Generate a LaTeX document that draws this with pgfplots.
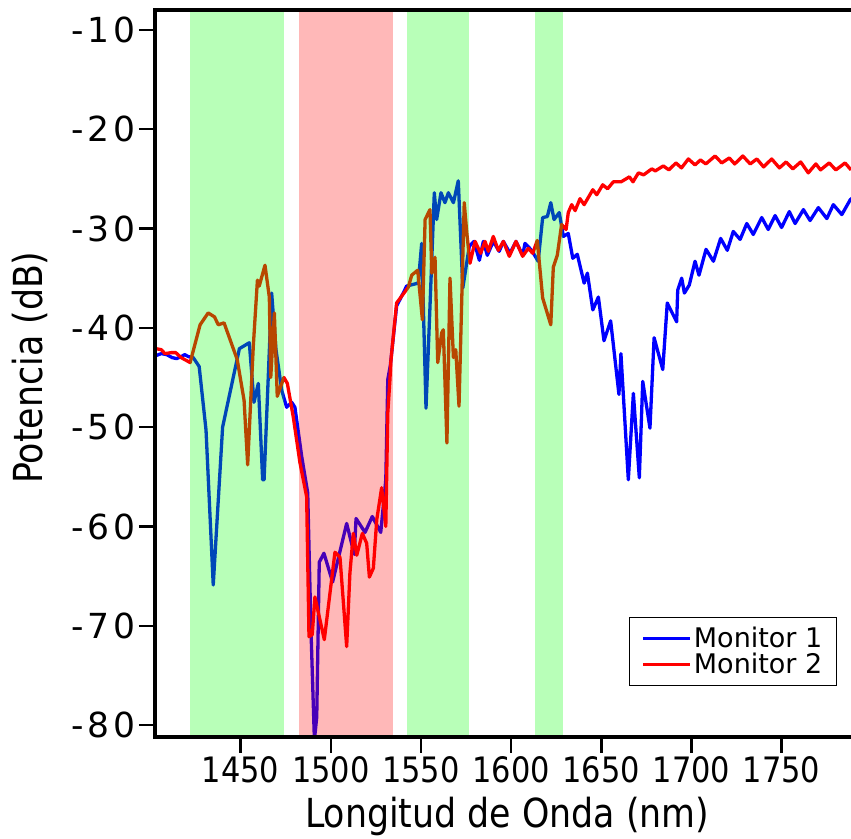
\documentclass[border=0pt]{standalone}
\usepackage{fontspec}
\setmainfont{DejaVu Sans}
\newfontfamily\tickfont[LetterSpace=11]{DejaVu Sans}
\newfontfamily\condfont[FakeStretch=0.87]{DejaVu Sans}
\usepackage{pgfplots}
\pgfplotsset{compat=1.18}

\begin{document}
\begin{tikzpicture}
\begin{axis}[
  scale only axis, width=696pt, height=727pt,
  xmin=1402.5, xmax=1788.5, ymin=-81.2, ymax=-8,
  clip mode=individual,
  axis line style={draw=none},
  xtick={1450,1500,1550,1600,1650,1700,1750},
  xticklabels={1450,1500,1550,1600,1650,1700,1750},
  ytick={-80,-70,-60,-50,-40,-30,-20,-10},
  yticklabels={-80,-70,-60,-50,-40,-30,-20,-10},
  xtick pos=bottom, ytick pos=left,
  tick align=outside, major tick length=16pt,
  tick style={black, line width=2.5pt},
  yticklabel style={font=\tickfont\fontsize{34.5}{39}\selectfont},
  xticklabel style={font=\condfont\fontsize{35}{40}\selectfont},
  xlabel={Longitud de Onda (nm)},
  ylabel={Potencia (dB)},
  xlabel style={font=\condfont\fontsize{40}{46}\selectfont, at={(rel axis cs:0.506,-0.109)}, anchor=center},
  ylabel style={font=\condfont\fontsize{40}{46}\selectfont, at={(rel axis cs:-0.18,0.508)}, anchor=center},
  legend style={at={(rel axis cs:0.98,0.07)}, anchor=south east, draw=black, line width=1.5pt,
    font=\fontsize{27}{29}\selectfont, inner xsep=12pt, inner ysep=8pt, row sep=0pt},
  legend cell align=left,
  legend image code/.code={\draw[#1] (0pt,0pt) -- (47pt,0pt);},
]
% Monitor 1
\addplot[blue, line width=3.3pt, line join=round] coordinates {
(1403,-42.8) (1406,-42.6) (1409,-42.7) (1412,-43.0) (1414.5,-43.1) (1417,-42.9) (1419,-42.7)
(1421,-42.9) (1423.7,-43.0) (1427,-43.9) (1430.8,-50.3) (1434.8,-65.9) (1440,-50.0)
(1449.3,-42.1) (1454.8,-41.5) (1457.4,-47.5) (1459.8,-45.6) (1462.2,-55.3) (1463,-55.3)
(1467.2,-36.5) (1469.6,-42.2) (1472.8,-46.3) (1475.5,-48.0) (1478.3,-47.5) (1480.1,-48.0)
(1483.9,-53.0) (1487.2,-56.6) (1489,-70.4) (1490.9,-81.5) (1492.2,-79.2) (1493.6,-63.6)
(1496.2,-62.7) (1501,-65.6) (1508.8,-59.7) (1513,-62.8) (1514,-59.2) (1519,-60.6)
(1523,-59.0) (1527.7,-60.6) (1530.5,-55.3) (1531.6,-45.2) (1533,-43.8) (1536.5,-37.8)
(1541,-36.2) (1542,-35.8) (1548.5,-35.5) (1550.4,-31.5) (1552.8,-48.1) (1555,-37.9)
(1557.4,-26.4) (1558.7,-29.1) (1561.1,-26.4) (1563.3,-27.4) (1565.2,-26.4) (1568,-27.4)
(1570.7,-25.2) (1573.2,-36.0) (1576.8,-31.8) (1579.4,-31.3) (1582.4,-33.2) (1584.6,-31.3)
(1586.8,-32.7) (1590.1,-31.3) (1593.4,-32.3) (1595.7,-31.3) (1599.4,-32.5) (1602.7,-31.3)
(1606.4,-32.7) (1607.7,-31.5) (1611.4,-32.2) (1615,-33.3) (1617.5,-28.9) (1620.1,-28.8)
(1622,-27.4) (1623.8,-29.1) (1626.7,-28.4) (1629,-30.8) (1631.7,-30.5) (1634.2,-33.0)
(1636.7,-32.6) (1640.5,-35.5) (1642.3,-34.5) (1645.3,-38.2) (1648.4,-36.9) (1651.5,-41.3)
(1655.2,-39.3) (1659.8,-46.7) (1660.9,-42.6) (1665,-55.3) (1667.8,-46.6) (1671.1,-55.1)
(1673,-45.4) (1677,-50.1) (1679.3,-41.0) (1684.1,-44.2) (1686.6,-37.5) (1691.8,-39.4)
(1692.4,-36.2) (1694.6,-35.0) (1696.1,-36.5) (1698.8,-35.7) (1702,-33.3) (1704.2,-34.7)
(1708.1,-32.1) (1712.2,-33.3) (1716.2,-31.0) (1719.9,-32.2) (1723.2,-30.3) (1727,-31.1)
(1730.7,-29.5) (1734.3,-30.6) (1739,-28.9) (1742.6,-30.1) (1746.4,-28.7) (1750,-29.9)
(1754.3,-28.3) (1757.5,-29.5) (1762.1,-28.1) (1765.8,-29.2) (1770.4,-27.9) (1775.1,-29.0)
(1778.7,-27.6) (1783.4,-28.6) (1788.1,-27.1) (1790,-26.8)
};
\addlegendentry{Monitor 1}
% Monitor 2
\addplot[red, line width=3.3pt, line join=round] coordinates {
(1403,-42.1) (1406,-42.2) (1408,-42.6) (1411.5,-42.5) (1414,-42.5) (1417,-43.0) (1419,-43.2)
(1422,-43.5) (1427.5,-39.7) (1432,-38.5) (1435.5,-38.9) (1437.6,-39.7) (1440.8,-39.5)
(1448.1,-43.2) (1451.9,-47.3) (1453.9,-53.8) (1457,-41.9) (1459.3,-35.2) (1460.3,-35.8)
(1463.5,-33.7) (1465.9,-36.9) (1466.7,-45.0) (1468.7,-38.5) (1470.3,-46.9) (1474,-45.0)
(1475.9,-45.6) (1479.2,-49.0) (1482.9,-53.6) (1486.6,-57.0) (1487.9,-71.1) (1489.7,-70.9)
(1491.2,-67.1) (1496.4,-71.4) (1502.3,-62.6) (1505.1,-63.1) (1508.8,-72.1) (1510.6,-64.7)
(1512.5,-60.7) (1514.4,-62.9) (1517.5,-60.7) (1519.9,-61.7) (1521.4,-65.1) (1523.6,-64.2)
(1525.5,-59.3) (1528.2,-56.1) (1530.5,-60.0) (1531.6,-48.6) (1532.8,-45.2) (1533.3,-43.4)
(1536.5,-37.5) (1541,-36.4) (1543,-35.9) (1544.9,-34.7) (1548.2,-34.2) (1550.8,-39.2)
(1552.3,-29.1) (1555,-28.1) (1556,-34.5) (1557.8,-32.9) (1559.3,-43.5) (1561.5,-40.5)
(1562.4,-40.2) (1564.4,-51.6) (1566.1,-35.0) (1568,-43.0) (1569.3,-42.2) (1571.1,-47.9)
(1574,-27.4) (1575.4,-30.4) (1577.2,-33.5) (1580,-31.3) (1583.1,-32.5) (1585.5,-31.3)
(1587.4,-32.3) (1590.1,-30.8) (1592.9,-32.2) (1595.7,-31.3) (1599,-32.8) (1602.7,-31.3)
(1606.4,-32.8) (1609.5,-32.0) (1612,-32.5) (1614.5,-31.2) (1617.5,-37.0) (1622,-39.7)
(1623.4,-33.9) (1625.6,-32.7) (1628,-29.6) (1630.5,-30.1) (1631.7,-28.4) (1633.6,-27.6)
(1635.5,-28.2) (1638.2,-27.0) (1640.5,-27.6) (1645.3,-26.1) (1647.5,-26.6) (1650.8,-25.6)
(1653.5,-26.0) (1656.7,-25.3) (1661,-25.3) (1665.6,-24.8) (1667.6,-25.3) (1670.6,-24.4)
(1673.5,-24.6) (1678,-24.0) (1680,-24.2) (1684.4,-23.7) (1687.5,-24.1) (1691.4,-23.4)
(1694.5,-23.9) (1698.3,-23.0) (1702,-23.6) (1705,-23.1) (1708,-23.5) (1713.1,-22.7)
(1716.8,-23.4) (1721,-22.9) (1724,-23.5) (1728.5,-22.7) (1732.6,-23.5) (1736.3,-23.0)
(1740,-23.8) (1744.5,-23.0) (1748.8,-23.9) (1752.5,-23.3) (1756.2,-24.0) (1760.6,-23.3)
(1764.8,-24.4) (1769,-23.5) (1771.6,-24.1) (1776.4,-23.4) (1780.1,-24.1) (1785.2,-23.4)
(1788.5,-24.1)
};
\addlegendentry{Monitor 2}
% shaded bands
\addplot[draw=none, fill=green, fill opacity=0.28, forget plot] coordinates {(1422,-90) (1422,0) (1474,0) (1474,-90)} -- cycle;
\addplot[draw=none, fill=red, fill opacity=0.28, forget plot] coordinates {(1482.4,-90) (1482.4,0) (1534.5,0) (1534.5,-90)} -- cycle;
\addplot[draw=none, fill=green, fill opacity=0.28, forget plot] coordinates {(1542.3,-90) (1542.3,0) (1576.7,0) (1576.7,-90)} -- cycle;
\addplot[draw=none, fill=green, fill opacity=0.28, forget plot] coordinates {(1613.3,-90) (1613.3,0) (1628.8,0) (1628.8,-90)} -- cycle;
% frame (no right spine)
\draw[black, line width=4pt, line join=miter] (rel axis cs:1,1) -- (rel axis cs:0,1) -- (rel axis cs:0,0) -- (rel axis cs:1,0);
\coordinate (bl) at (rel axis cs:0,0);
\coordinate (tr) at (rel axis cs:1,1);
\end{axis}
\pgfresetboundingbox
\useasboundingbox ([xshift=-155pt,yshift=-102pt]bl) rectangle ([yshift=10pt]tr);
\end{tikzpicture}
\end{document}
